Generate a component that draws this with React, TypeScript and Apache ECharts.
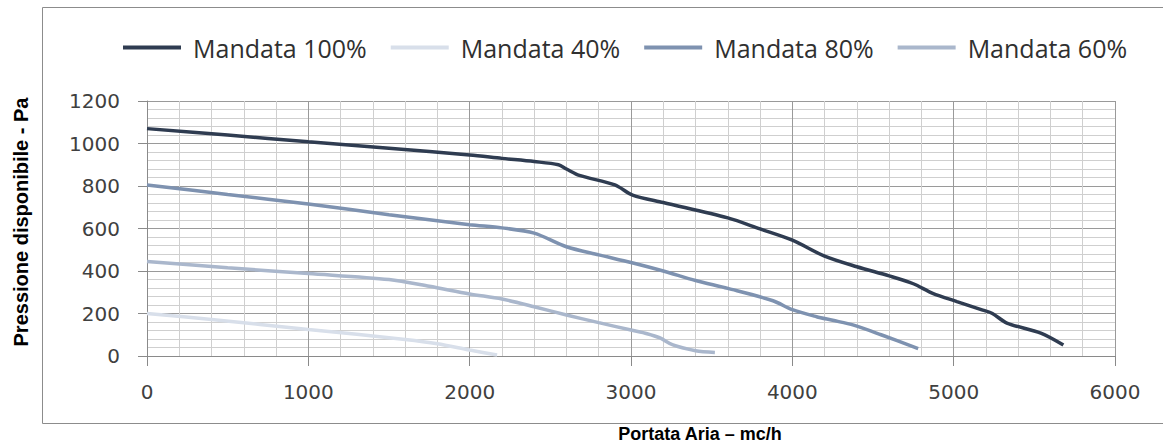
import React, { useEffect, useRef } from "react";
import * as echarts from "echarts";

const seriesNames = ["Mandata 100%", "Mandata 40%", "Mandata 80%", "Mandata 60%"];
const seriesColors = ["#2f3c51", "#d8dfea", "#7e92b0", "#aab7cc"];

const flow100 = [0, 500, 1000, 1500, 2000, 2200, 2400, 2550, 2600, 2680, 2900, 3010, 3200, 3600, 3800, 4000, 4200, 4400, 4600, 4750, 4870, 5020, 5180, 5240, 5330, 5540, 5680];
const press100 = [1070, 1040, 1008, 978, 946, 930, 915, 900, 880, 850, 805, 757, 722, 650, 598, 545, 470, 420, 377, 340, 295, 256, 216, 200, 155, 108, 52];

const flow40 = [0, 400, 1000, 1600, 1800, 2000, 2170];
const press40 = [200, 172, 125, 78, 58, 28, 5];

const flow80 = [0, 500, 1000, 1500, 2000, 2200, 2400, 2600, 2800, 3000, 3200, 3400, 3600, 3880, 4000, 4150, 4250, 4380, 4550, 4780];
const press80 = [805, 760, 715, 665, 618, 603, 578, 514, 476, 440, 400, 355, 318, 260, 218, 185, 168, 145, 100, 35];

const flow60 = [0, 500, 1000, 1500, 1750, 2000, 2200, 2400, 2600, 2800, 3000, 3100, 3180, 3260, 3400, 3520];
const press60 = [445, 415, 388, 360, 328, 292, 268, 232, 193, 157, 122, 105, 85, 52, 25, 17];

const flows = [flow100, flow40, flow80, flow60];
const pressures = [press100, press40, press80, press60];

const xTitle = "Portata Aria – mc/h";
const yTitle = "Pressione disponibile - Pa";

export default function App() {
  const ref = useRef<HTMLDivElement>(null);
  useEffect(() => {
    if (!ref.current) return;
    const chart = echarts.init(ref.current, null, { renderer: "svg" });
    const labelFont = "DejaVu Sans";
    const plain = (v: number) => String(v);
    chart.setOption({
      animation: false,
      backgroundColor: "#ffffff",
      graphic: [
        {
          type: "rect",
          shape: { x: 42.5, y: 7.5, width: 1200, height: 416 },
          style: { fill: "none", stroke: "#8c8c8c", lineWidth: 1 },
          silent: true,
        },
        {
          type: "text",
          x: 700,
          y: 434,
          style: {
            text: xTitle,
            fontFamily: "Liberation Sans",
            fontWeight: "bold",
            fontSize: 18,
            fill: "#000000",
            align: "center",
            verticalAlign: "middle",
          },
        },
        {
          type: "text",
          x: 21,
          y: 222,
          rotation: Math.PI / 2,
          style: {
            text: yTitle,
            fontFamily: "Liberation Sans",
            fontWeight: "bold",
            fontSize: 20,
            fill: "#000000",
            align: "center",
            verticalAlign: "middle",
          },
        },
      ],
      legend: {
        data: seriesNames,
        left: 118,
        top: 30,
        icon: "rect",
        itemWidth: 58,
        itemHeight: 4,
        itemGap: 24,
        textStyle: {
          fontFamily: "Open Sans",
          fontSize: 25,
          color: "#303030",
          padding: [0, 0, 0, 7],
        },
      },
      grid: { left: 147, right: 48, top: 101, bottom: 89 },
      xAxis: {
        type: "value",
        min: 0,
        max: 6000,
        interval: 1000,
        axisLine: { show: true, lineStyle: { color: "#8a8a8a" } },
        axisTick: { show: true, length: 10, lineStyle: { color: "#8a8a8a" } },
        axisLabel: { margin: 26, fontFamily: labelFont, fontSize: 20, color: "#404040", formatter: plain },
        splitLine: { show: true, lineStyle: { color: "#9a9a9a", width: 1 } },
        minorTick: { show: false, splitNumber: 5 },
        minorSplitLine: { show: true, lineStyle: { color: "#cfcfcf", width: 1 } },
      },
      yAxis: {
        type: "value",
        min: 0,
        max: 1200,
        interval: 200,
        axisLine: { show: true, lineStyle: { color: "#8a8a8a" } },
        axisTick: { show: true, length: 9, lineStyle: { color: "#8a8a8a" } },
        axisLabel: { margin: 27, fontFamily: labelFont, fontSize: 20, color: "#404040", formatter: plain },
        splitLine: { show: true, lineStyle: { color: "#9a9a9a", width: 1 } },
        minorTick: { show: false, splitNumber: 5 },
        minorSplitLine: { show: true, lineStyle: { color: "#cfcfcf", width: 1 } },
      },
      series: seriesNames.map((name, i) => ({
        name,
        type: "line",
        data: flows[i].map((x, j) => [x, pressures[i][j]]),
        smooth: 0.3,
        symbol: "none",
        lineStyle: { color: seriesColors[i], width: 3.5 },
        itemStyle: { color: seriesColors[i] },
      })),
    });
    return () => chart.dispose();
  }, []);
  return (
    <div
      ref={ref}
      style={{ position: "absolute", left: 0, top: 0, width: 1163, height: 445 }}
    />
  );
}
